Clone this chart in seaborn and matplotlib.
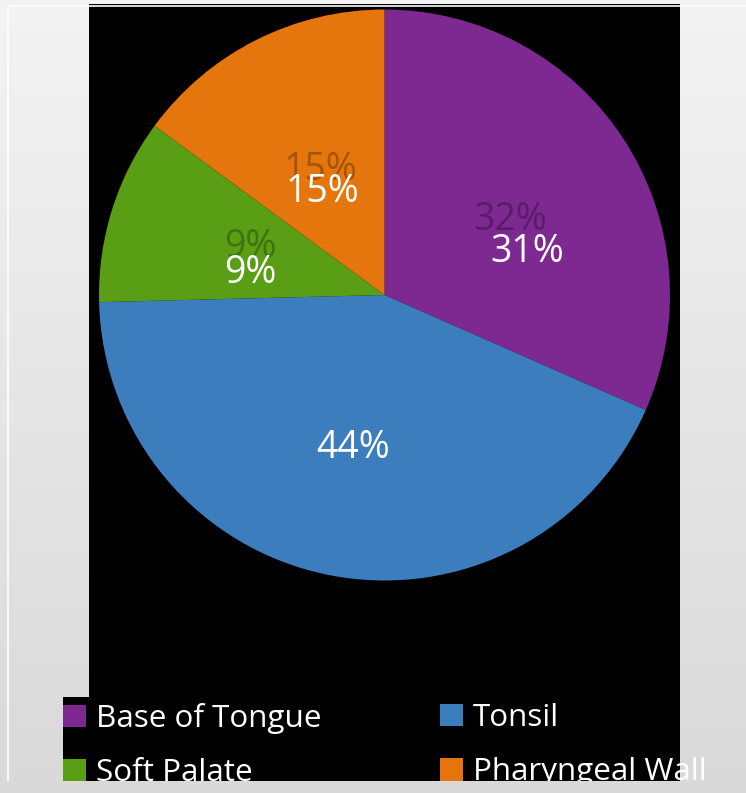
import numpy as np
import matplotlib
matplotlib.use("Agg")
import matplotlib.pyplot as plt
import seaborn as sns
from matplotlib.patches import Rectangle, Patch
from matplotlib.lines import Line2D

# ---------------- data ----------------
categories = ["Base of Tongue", "Tonsil", "Soft Palate", "Pharyngeal Wall"]
shares = [31.6, 43.0, 10.5, 14.9]          # wedge sizes
shown_labels = ["31%", "44%", "9%", "15%"]  # labels printed on the slices
ghost_labels = ["32%", "", "9%", "15%"]     # faint shadow labels behind
colors = ["#7E2891", "#3B7DBD", "#599E14", "#E5760E"]

sns.set_theme(style="white")
plt.rcParams["font.family"] = ["Open Sans", "DejaVu Sans"]

W, H = 746, 793
fig = plt.figure(figsize=(W / 100, H / 100), dpi=100)

def fx(px):
    return px / W

def fy(py):
    return 1 - py / H

# background gradient
bg = fig.add_axes([0, 0, 1, 1], zorder=-10)
grad = np.linspace(0, 1, 256).reshape(-1, 1)
top_c = np.array([0.953, 0.953, 0.953])
bot_c = np.array([0.851, 0.851, 0.851])
img = top_c + (bot_c - top_c) * grad[..., None]
bg.imshow(np.repeat(img, 2, axis=1), aspect="auto", extent=[0, 1, 0, 1])
bg.set_xlim(0, 1)
bg.set_ylim(0, 1)
bg.axis("off")
# thin white frame lines
bg.add_line(Line2D([fx(8), fx(8)], [fy(6), 0], color="white", lw=1.2))
bg.add_line(Line2D([fx(8), 1], [fy(6), fy(6)], color="white", lw=1.2))
# black slide panels
bg.add_patch(Rectangle((fx(89), fy(781)), fx(680) - fx(89), fy(4) - fy(781),
                       facecolor="black", edgecolor="none"))
bg.add_patch(Rectangle((fx(63), fy(781)), fx(89) - fx(63), fy(697) - fy(781),
                       facecolor="black", edgecolor="none"))

# pie axes: centre (384.5, 295), radius 285.5 px
cx, cy, r = 384.5, 295.0, 285.5
ax = fig.add_axes([fx(cx - r), fy(cy + r), 2 * r / W, 2 * r / H])
wedges, _ = ax.pie(shares, colors=colors, startangle=90, counterclock=False,
                   radius=1.0, wedgeprops=dict(linewidth=0, edgecolor="none"))
ax.set_xlim(-1, 1)
ax.set_ylim(-1, 1)
ax.set_aspect("auto")
ax.axis("off")

# label positions (pie units, baseline anchored)
label_xy = [(0.501, 0.116), (-0.110, -0.571), (-0.471, 0.042), (-0.219, 0.326)]
ghost_xy = [(0.440, 0.228), None, (-0.471, 0.133), (-0.226, 0.403)]

for lab, pos in zip(ghost_labels, ghost_xy):
    if lab and pos is not None:
        ax.text(pos[0], pos[1], lab, ha="center", va="baseline",
                fontsize=27, color="black", alpha=0.28)

for lab, pos in zip(shown_labels, label_xy):
    ax.text(pos[0], pos[1], lab, ha="center", va="baseline",
            fontsize=27, color="white")

# legend: two columns
handles = [Patch(facecolor=c, edgecolor="none") for c in colors]
common = dict(frameon=False, fontsize=22.6, labelcolor="white", handlelength=0.72,
              handleheight=0.72, handletextpad=0.33, labelspacing=0.78,
              borderpad=0, borderaxespad=0, loc="upper left")
leg1 = fig.legend([handles[0], handles[2]], [categories[0], categories[2]],
                  bbox_to_anchor=(fx(63), fy(703)), **common)
leg2 = fig.legend([handles[1], handles[3]], [categories[1], categories[3]],
                  bbox_to_anchor=(fx(440), fy(703)), **common)

# bottom band clipping the slide
fig.patches.append(Rectangle((0, 0), 1, fy(781), transform=fig.transFigure,
                             facecolor="#d9d9d9", edgecolor="none", zorder=20))

fig.savefig("out.png", dpi=100)
